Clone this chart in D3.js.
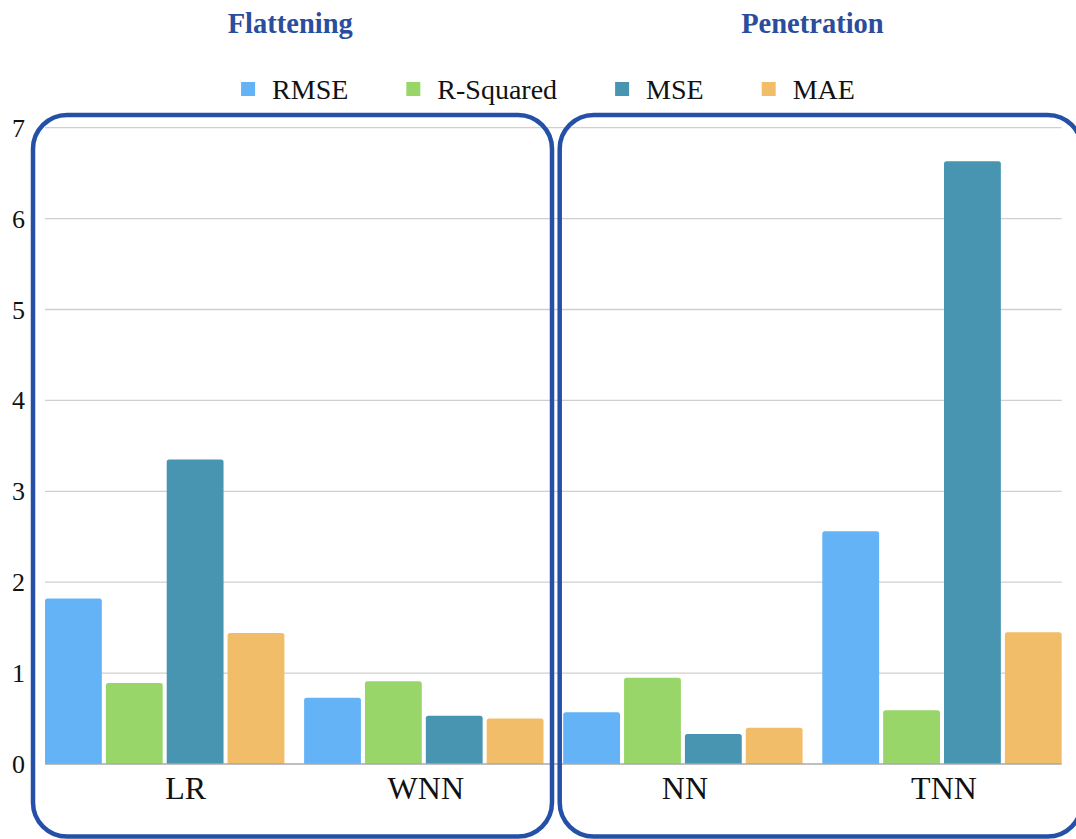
<!DOCTYPE html>
<html>
<head>
<meta charset="utf-8">
<script src="https://cdn.jsdelivr.net/npm/d3@7/dist/d3.min.js"></script>
<style>
  html, body { margin: 0; padding: 0; background: #ffffff; }
  svg { display: block; }
  text { font-family: "Liberation Serif", "Times New Roman", serif; }
</style>
</head>
<body>
<svg id="chart" width="1076" height="839"></svg>
<script>
// Models, grouped by task
const categories = ["LR", "WNN", "NN", "TNN"];
const groupTitles = ["Flattening", "Penetration"];
const groupMembers = [["LR", "WNN"], ["NN", "TNN"]];

// Metrics (series) and their colours
const series = ["RMSE", "R-Squared", "MSE", "MAE"];
const seriesColors = ["#64b3f6", "#98d66a", "#4795b0", "#f2bd69"];

// Metric values per model, in the order of `categories`
const rmse     = [1.82, 0.73, 0.57, 2.56];
const rSquared = [0.89, 0.91, 0.95, 0.59];
const mse      = [3.35, 0.53, 0.33, 6.63];
const mae      = [1.44, 0.50, 0.40, 1.45];

const yTicks = [0, 1, 2, 3, 4, 5, 6, 7];

const valuesBySeries = [rmse, rSquared, mse, mae];

const svg = d3.select("#chart");
const plot = { left: 45, right: 1061.7, top: 127.7, bottom: 764 };

const y = d3.scaleLinear().domain([0, 7]).range([plot.bottom, plot.top]);
const x0 = d3.scaleBand().domain(categories).range([plot.left, plot.right])
  .paddingInner(0.076).paddingOuter(0);
const x1 = d3.scaleBand().domain(series).range([0, x0.bandwidth()])
  .paddingInner(0.066).paddingOuter(0);
const color = d3.scaleOrdinal().domain(series).range(seriesColors);

// Horizontal grid lines
const grid = svg.append("g");
grid.selectAll("line").data(yTicks.filter(d => d > 0)).join("line")
  .attr("x1", plot.left).attr("x2", plot.right)
  .attr("y1", d => y(d)).attr("y2", d => y(d))
  .attr("stroke", "#cfcfcf").attr("stroke-width", 1.3);

// Y axis tick labels (no domain line)
const yAxis = d3.axisLeft(y).tickValues(yTicks).tickSize(0).tickPadding(0)
  .tickFormat(d3.format("d"));
const yg = svg.append("g").attr("transform", "translate(25,0)").call(yAxis);
yg.select(".domain").remove();
yg.selectAll("text")
  .attr("font-size", 26).attr("fill", "#111")
  .attr("dy", "0.33em");

// Bars with slightly rounded tops
function barPath(x, yTop, w, yBase, r) {
  const h = yBase - yTop;
  r = Math.min(r, h / 2, w / 2);
  return `M${x},${yBase}V${yTop + r}Q${x},${yTop} ${x + r},${yTop}` +
         `H${x + w - r}Q${x + w},${yTop} ${x + w},${yTop + r}V${yBase}Z`;
}

const rows = categories.map((c, i) => ({
  category: c,
  values: series.map((s, j) => ({ series: s, value: valuesBySeries[j][i] }))
}));

const groups = svg.append("g").selectAll("g").data(rows).join("g")
  .attr("transform", d => `translate(${x0(d.category)},0)`);

groups.selectAll("path").data(d => d.values).join("path")
  .attr("d", d => barPath(x1(d.series), y(d.value), x1.bandwidth(), y(0), 2.5))
  .attr("fill", d => color(d.series));

// Baseline
svg.append("line")
  .attr("x1", plot.left).attr("x2", plot.right)
  .attr("y1", y(0)).attr("y2", y(0))
  .attr("stroke", "#a8a8a8").attr("stroke-width", 1.5);

// Category labels (the first one sits a little right of its group centre)
const xAxis = d3.axisBottom(x0).tickSize(0).tickPadding(0);
const xg = svg.append("g").attr("transform", `translate(0,${y(0)})`).call(xAxis);
xg.select(".domain").remove();
xg.selectAll("text")
  .attr("font-size", 32).attr("fill", "#111")
  .attr("dy", null).attr("y", 35)
  .attr("dx", (d, i) => (i === 0 ? 21 : 2));

// Legend, centred above the plot
const legend = svg.append("g");
const items = legend.selectAll("g").data(series).join("g");
items.append("rect")
  .attr("width", 14).attr("height", 14).attr("y", -7)
  .attr("fill", d => color(d));
items.append("text")
  .attr("x", 31).attr("dy", "0.34em")
  .attr("font-size", 28).attr("fill", "#111")
  .text(d => d);
const legendGap = 58;
let cx = 0;
items.each(function () {
  const g = d3.select(this);
  g.attr("transform", `translate(${cx},0)`);
  cx += 31 + g.select("text").node().getComputedTextLength() + legendGap;
});
const legendWidth = cx - legendGap;
legend.attr("transform", `translate(${548 - legendWidth / 2},89)`);

// Rounded frames around each task group, with the task title above
const boxTop = 115, boxBottom = 836.5;
const frames = [
  { x0: x0("LR") - 12, x1: x0("WNN") + x0.bandwidth() + 8.5 },
  { x0: x0("NN") - 3.5, x1: x0("TNN") + x0.bandwidth() + 20 }
];
svg.append("g").selectAll("rect").data(frames).join("rect")
  .attr("x", d => d.x0).attr("y", boxTop)
  .attr("width", d => d.x1 - d.x0).attr("height", boxBottom - boxTop)
  .attr("rx", 34).attr("ry", 34)
  .attr("fill", "none").attr("stroke", "#2451a7").attr("stroke-width", 4.5);

svg.append("g").selectAll("text").data(groupTitles).join("text")
  .attr("x", (d, i) => {
    const m = groupMembers[i];
    return (x0(m[0]) + x0(m[1]) + x0.bandwidth()) / 2 - (i === 0 ? 4 : 0);
  })
  .attr("y", 33)
  .attr("text-anchor", "middle")
  .attr("font-size", 28.5).attr("font-weight", "bold")
  .attr("fill", "#2a4d9c")
  .text(d => d);
</script>
</body>
</html>
